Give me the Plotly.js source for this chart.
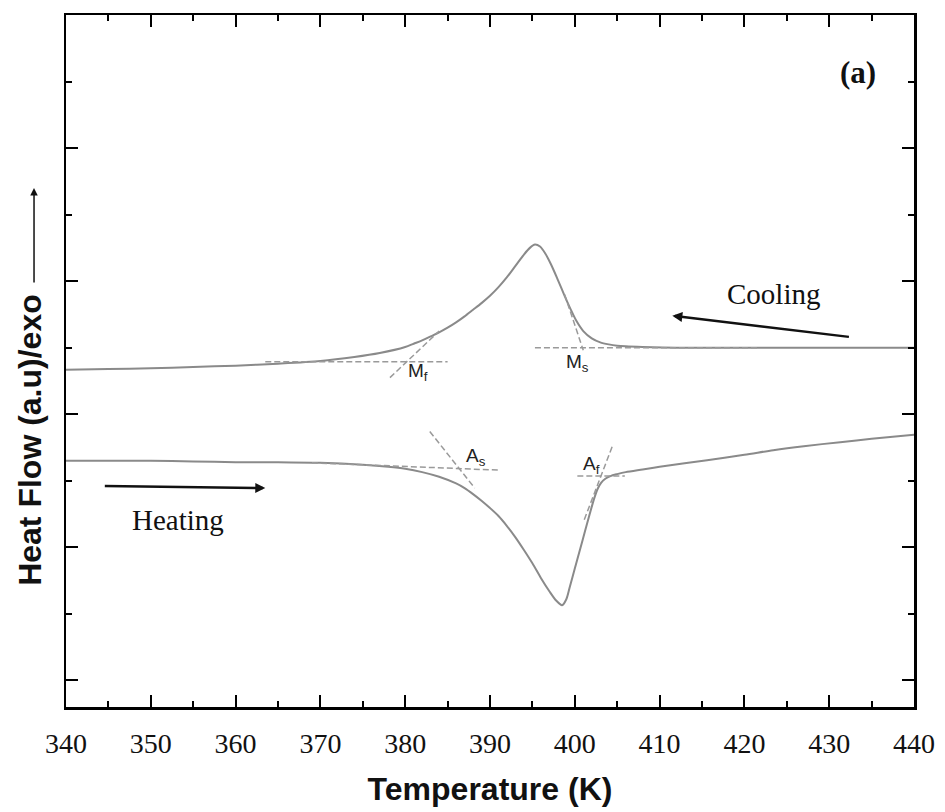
<!DOCTYPE html>
<html>
<head>
<meta charset="utf-8">
<script src="https://cdn.plot.ly/plotly-3.0.1.min.js"></script>
<style>html,body{margin:0;padding:0;background:#fff;}#chart{width:945px;height:812px;}</style>
</head>
<body>
<div id="chart"></div>
<script>
// Cooling curve (upper), temperature in K and heat flow in arbitrary units
const coolT = [340,345,350,355,360,365,370,374,377,380,381,382,383,384,385,386,387,388,389,390,391,392,393,394,394.7,395.3,395.9,396.5,397.2,398,398.8,399.5,400.2,401,402,403,404,405,406,408,412,420,430,440];
const coolQ = [4.67,4.68,4.69,4.71,4.73,4.76,4.80,4.86,4.92,5.01,5.06,5.11,5.17,5.23,5.30,5.38,5.47,5.57,5.67,5.78,5.91,6.06,6.23,6.40,6.50,6.55,6.52,6.42,6.25,6.02,5.78,5.58,5.40,5.25,5.14,5.08,5.05,5.03,5.02,5.01,5.00,5.00,5.00,5.00];

// Heating curve (lower)
const heatT = [340,345,350,355,360,365,370,375,378,380,382,384,386,387,388,389,390,391,392,393,394,395,396,397,397.8,398.5,399,399.4,400,400.6,401.2,401.8,402.3,402.7,403.1,403.6,404.2,405,406,408,410,415.6,420,423.4,427,431.3,435,440];
const heatQ = [3.30,3.30,3.30,3.29,3.28,3.28,3.27,3.24,3.21,3.18,3.13,3.06,2.96,2.89,2.80,2.70,2.59,2.47,2.32,2.15,1.96,1.76,1.54,1.34,1.20,1.13,1.22,1.40,1.68,1.96,2.24,2.52,2.74,2.88,2.97,3.03,3.07,3.10,3.13,3.17,3.21,3.31,3.39,3.46,3.52,3.58,3.63,3.69];

// Construction (tangent) lines: [T start, T end], [Q start, Q end]
const mfBaseT = [363.5, 385.0], mfBaseQ = [4.79, 4.79];
const mfSlopeT = [378.2, 384.0], mfSlopeQ = [4.55, 5.25];
const msBaseT = [395.3, 421.8], msBaseQ = [5.00, 5.00];
const msSlopeT = [398.8, 401.0], msSlopeQ = [5.80, 4.96];
const asBaseT = [369.0, 391.0], asBaseQ = [3.27, 3.16];
const asSlopeT = [382.9, 388.2], asSlopeQ = [3.74, 2.89];
const afBaseT = [400.3, 405.9], afBaseQ = [3.07, 3.07];
const afSlopeT = [404.4, 401.1], afSlopeQ = [3.51, 2.41];

const xTicks = [340,350,360,370,380,390,400,410,420,430,440];

const curveColor = '#8a8a8a';
const tanColor = '#9a9a9a';
const serif = 'Liberation Serif, Times New Roman, serif';
const sans = 'Liberation Sans, Arial, sans-serif';

function curve(x, y) {
  return {x: x, y: y, type: 'scatter', mode: 'lines', line: {color: curveColor, width: 2, shape: 'spline', smoothing: 0.8}, hoverinfo: 'skip'};
}
function tangent(x, y) {
  return {x: x, y: y, type: 'scatter', mode: 'lines', line: {color: tanColor, width: 1.5, dash: '6px,3px'}, hoverinfo: 'skip'};
}

const data = [
  curve(coolT, coolQ),
  curve(heatT, heatQ),
  tangent(mfBaseT, mfBaseQ), tangent(mfSlopeT, mfSlopeQ),
  tangent(msBaseT, msBaseQ), tangent(msSlopeT, msSlopeQ),
  tangent(asBaseT, asBaseQ), tangent(asSlopeT, asSlopeQ),
  tangent(afBaseT, afBaseQ), tangent(afSlopeT, afSlopeQ)
];

const labelFont = {family: sans, size: 19, color: '#222'};

const layout = {
  width: 945, height: 812,
  margin: {l: 66, r: 31, t: 15, b: 105},
  paper_bgcolor: '#fff', plot_bgcolor: '#fff',
  showlegend: false,
  xaxis: {
    range: [340, 440], tickvals: xTicks, ticktext: xTicks.map(String),
    ticks: 'inside', ticklen: 12, tickwidth: 2, tickcolor: '#000',
    minor: {dtick: 5, tick0: 340, ticks: 'inside', ticklen: 6, tickwidth: 2, tickcolor: '#000'},
    showline: true, linecolor: '#000', linewidth: 2.5, mirror: 'ticks',
    showgrid: false, zeroline: false,
    ticklabelstandoff: 10,
    tickfont: {family: serif, size: 28, color: '#111'},
    title: {text: 'Temperature (K)', font: {family: sans, size: 32, color: '#111', weight: 'bold'}, standoff: 20}
  },
  yaxis: {
    range: [-0.4, 10], tick0: 0, dtick: 2,
    ticks: 'inside', ticklen: 12, tickwidth: 2, tickcolor: '#000',
    minor: {dtick: 1, tick0: 0, ticks: 'inside', ticklen: 6, tickwidth: 2, tickcolor: '#000'},
    showline: true, linecolor: '#000', linewidth: 2.5, mirror: 'ticks',
    showgrid: false, zeroline: false, showticklabels: false
  },
  annotations: [
    {x: -0.0425, y: 0.386, xref: 'paper', yref: 'paper', xanchor: 'center', yanchor: 'middle', textangle: -90,
     text: '<b>Heat Flow (a.u)/exo</b>', showarrow: false, font: {family: sans, size: 32, color: '#111'}},
    {x: -0.0377, y: 0.75, xref: 'paper', yref: 'paper', ax: 0, ay: 96, axref: 'pixel', ayref: 'pixel', text: '', showarrow: true, arrowhead: 2, arrowsize: 1, arrowwidth: 1.5, arrowcolor: '#111'},
    {x: 433.4, y: 9.13, xref: 'x', yref: 'y', text: '<b>(a)</b>', showarrow: false, font: {family: serif, size: 31, color: '#111'}},
    {x: 423.4, y: 5.80, xref: 'x', yref: 'y', text: 'Cooling', showarrow: false, font: {family: serif, size: 29, color: '#111'}},
    {x: 353.2, y: 2.41, xref: 'x', yref: 'y', text: 'Heating', showarrow: false, font: {family: serif, size: 29, color: '#111'}},
    {x: 411.5, y: 5.48, ax: 432.5, ay: 5.16, xref: 'x', yref: 'y', axref: 'x', ayref: 'y', text: '', showarrow: true, arrowhead: 2, arrowsize: 0.8, arrowwidth: 2.5, arrowcolor: '#111'},
    {x: 363.5, y: 2.89, ax: 344.4, ay: 2.92, xref: 'x', yref: 'y', axref: 'x', ayref: 'y', text: '', showarrow: true, arrowhead: 2, arrowsize: 0.8, arrowwidth: 2.5, arrowcolor: '#111'},
    {x: 381.5, y: 4.64, xref: 'x', yref: 'y', text: 'M<sub>f</sub>', showarrow: false, font: labelFont},
    {x: 400.3, y: 4.77, xref: 'x', yref: 'y', text: 'M<sub>s</sub>', showarrow: false, font: labelFont},
    {x: 388.3, y: 3.36, xref: 'x', yref: 'y', text: 'A<sub>s</sub>', showarrow: false, font: labelFont},
    {x: 402.0, y: 3.24, xref: 'x', yref: 'y', text: 'A<sub>f</sub>', showarrow: false, font: labelFont}
  ]
};

Plotly.newPlot('chart', data, layout, {displayModeBar: false, staticPlot: true});
</script>
</body>
</html>
